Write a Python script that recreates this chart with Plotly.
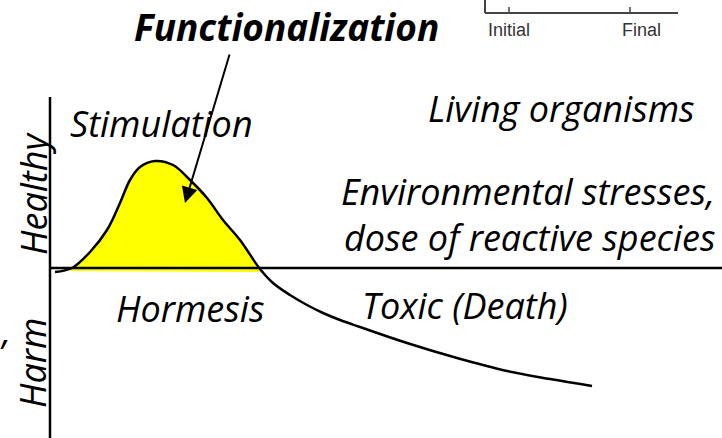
import plotly.graph_objects as go

# dose-response curve (x: dose, y: response; 0 = baseline)
dose = [5, 22, 40, 57, 70, 80, 90, 105, 123, 140, 157, 173, 190, 210, 223, 240, 257, 273, 290, 310,
        357, 407, 457, 500, 542]
response = [-4, 0, 16, 38, 65, 88, 101, 107, 103, 88, 70, 48, 28, -1, -15, -27, -37, -45, -52, -59,
            -75, -90, -103, -111, -118]

# hormesis hump (filled region)
hump_dose = [22, 40, 57, 70, 80, 90, 105, 123, 140, 157, 173, 190, 210, 213]
hump_resp = [0, 16, 38, 65, 88, 101, 107, 103, 88, 70, 48, 28, -1, -4]
base_dose = [20, 213]
base_resp = [-3, -4]

inset_ticks = [459, 580]
inset_labels = ['Initial', 'Final']

fig = go.Figure()

# yellow fill under the hump
fig.add_trace(go.Scatter(x=base_dose, y=base_resp, mode='lines',
                         line=dict(color='rgba(0,0,0,0)', width=0),
                         hoverinfo='none', showlegend=False))
fig.add_trace(go.Scatter(x=hump_dose, y=hump_resp, mode='lines', fill='tonexty',
                         fillcolor='#FFFF00',
                         line=dict(color='rgba(0,0,0,0)', width=0, shape='spline'),
                         hoverinfo='none', showlegend=False))

# axes lines
fig.add_shape(type='line', x0=0, x1=672, y0=0, y1=0, line=dict(color='black', width=2.5))
fig.add_shape(type='line', x0=0, x1=0, y0=-170, y1=171, line=dict(color='black', width=2.5))

# curve
fig.add_trace(go.Scatter(x=dose, y=response, mode='lines',
                         line=dict(color='black', width=2.5, shape='spline', smoothing=1.0),
                         hoverinfo='none', showlegend=False))

# inset axes (top right)
fig.add_shape(type='line', x0=435, x1=435, y0=255, y1=275, line=dict(color='#444', width=2))
fig.add_shape(type='line', x0=435, x1=628, y0=255, y1=255, line=dict(color='#444', width=2))
for t, lab, dx in zip(inset_ticks, inset_labels, [0, 11]):
    fig.add_shape(type='line', x0=t, x1=t, y0=255, y1=261, line=dict(color='#444', width=1.5))
    fig.add_annotation(x=t + dx, y=238, text=lab, showarrow=False,
                       font=dict(family='Liberation Sans, Arial', size=18, color='#333'))

it = 'Open Sans, Noto Sans, sans-serif'
texts = [
    ('<b><i>Functionalization</i></b>', 236, 242, 37, 'center', 0),
    ('<i>Stimulation</i>', 111, 145, 36, 'center', 0),
    ('<i>Living organisms</i>', 647, 160, 36, 'right', 0),
    ('<i>Environmental stresses,</i>', 667, 77, 36, 'right', 0),
    ('<i>dose of reactive species</i>', 667, 31, 36, 'right', 0),
    ('<i>Hormesis</i>', 140, -40, 36, 'center', 0),
    ('<i>Toxic (Death)</i>', 415, -37, 36, 'center', 0),
    ('<i>Healthy</i>', -17, 74, 36, 'center', -90),
    ('<i>Harm</i>', -18, -95, 36, 'center', -90),
    ('<i>,</i>', -45, -62, 36, 'center', 0),
]
for txt, x, y, size, anchor, ang in texts:
    fig.add_annotation(x=x, y=y, text=txt, showarrow=False, xanchor=anchor, yanchor='middle',
                       textangle=ang, font=dict(family=it, size=size, color='black'))

# arrow from label to hump
fig.add_annotation(x=135, y=65, ax=180, ay=215, xref='x', yref='y', axref='x', ayref='y',
                   text='', showarrow=True, arrowhead=2, arrowsize=1.6, arrowwidth=2,
                   arrowcolor='black')

fig.update_layout(width=722, height=438, margin=dict(l=0, r=0, t=0, b=0),
                  plot_bgcolor='white', paper_bgcolor='white',
                  xaxis=dict(range=[-50, 672], visible=False),
                  yaxis=dict(range=[-170, 268], visible=False))

fig.write_html('out.html', config={'displayModeBar': False},
               post_script="document.body.style.margin='0';")
